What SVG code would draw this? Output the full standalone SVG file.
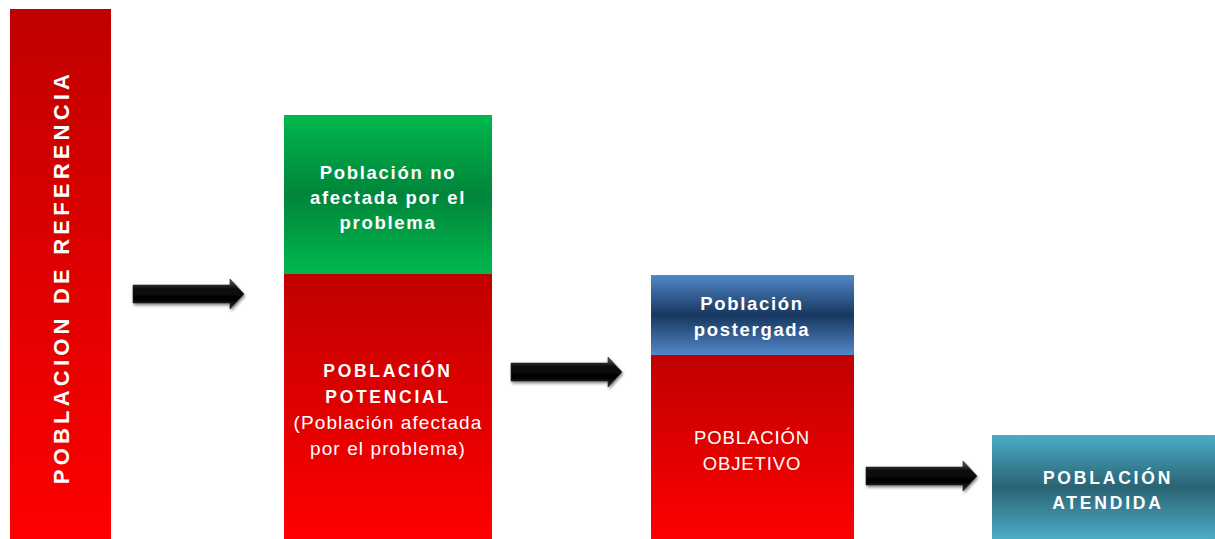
<svg xmlns="http://www.w3.org/2000/svg" width="1215" height="539" viewBox="0 0 1215 539">
<defs>
<linearGradient id="red" x1="0" y1="0" x2="0" y2="1"><stop offset="0" stop-color="#C00000"/><stop offset="1" stop-color="#FF0000"/></linearGradient>
<linearGradient id="green" x1="0" y1="0" x2="0" y2="1"><stop offset="0" stop-color="#00B84E"/><stop offset="0.5" stop-color="#00853A"/><stop offset="1" stop-color="#00B84E"/></linearGradient>
<linearGradient id="blue" x1="0" y1="0" x2="0" y2="1"><stop offset="0" stop-color="#5288C9"/><stop offset="0.5" stop-color="#17375E"/><stop offset="1" stop-color="#5288C9"/></linearGradient>
<linearGradient id="teal" x1="0" y1="0" x2="0" y2="1"><stop offset="0" stop-color="#4BACC6"/><stop offset="0.5" stop-color="#2A6474"/><stop offset="1" stop-color="#4BACC6"/></linearGradient>
<linearGradient id="arr" x1="0" y1="0" x2="0" y2="1"><stop offset="0" stop-color="#666"/><stop offset="0.3" stop-color="#111"/><stop offset="0.7" stop-color="#000"/><stop offset="1" stop-color="#333"/></linearGradient>
<filter id="sh" x="-10%" y="-40%" width="130%" height="200%"><feGaussianBlur in="SourceAlpha" stdDeviation="1.5"/><feOffset dx="1" dy="2" result="b"/><feComponentTransfer><feFuncA type="linear" slope="0.5"/></feComponentTransfer><feMerge><feMergeNode/><feMergeNode in="SourceGraphic"/></feMerge></filter>
<polygon id="arrow" points="0,-9 97,-9 97,-15 111,0 97,15 97,9 0,9" fill="url(#arr)" stroke="#222" stroke-width="0.6" filter="url(#sh)"/>
</defs>
<style>
text{font-family:"Liberation Sans",Arial,sans-serif;fill:#fff;text-anchor:middle}
.b{font-weight:bold;font-size:18.5px;letter-spacing:1.7px}
.n{font-size:19px;letter-spacing:1.1px}
</style>
<g id="ref">
<rect x="10" y="9" width="101" height="530" fill="url(#red)"/>
<text class="b" transform="translate(69,277) rotate(-90)" style="font-size:22px;letter-spacing:4.2px">POBLACION DE REFERENCIA</text>
</g>
<g id="no-afectada">
<rect x="284" y="115" width="208" height="159" fill="url(#green)"/>
<text class="b" x="388" y="179">Población no</text>
<text class="b" x="388" y="204">afectada por el</text>
<text class="b" x="388" y="229">problema</text>
</g>
<g id="potencial">
<rect x="284" y="274" width="208" height="265" fill="url(#red)"/>
<text class="b" x="388" y="377" style="letter-spacing:2.7px;font-size:17.5px">POBLACIÓN</text>
<text class="b" x="388" y="403" style="letter-spacing:2.7px;font-size:17.5px">POTENCIAL</text>
<text class="n" x="388" y="429">(Población afectada</text>
<text class="n" x="388" y="455">por el problema)</text>
</g>
<g id="postergada">
<rect x="651" y="275" width="203" height="80" fill="url(#blue)"/>
<text class="b" x="752" y="310">Población</text>
<text class="b" x="752" y="336">postergada</text>
</g>
<g id="objetivo">
<rect x="651" y="355" width="203" height="184" fill="url(#red)"/>
<text class="n" x="752" y="444" style="font-size:18.5px;letter-spacing:0.9px">POBLACIÓN</text>
<text class="n" x="752" y="470" style="font-size:18.5px;letter-spacing:0.9px">OBJETIVO</text>
</g>
<g id="atendida">
<rect x="992" y="435" width="223" height="104" fill="url(#teal)"/>
<text class="b" x="1108" y="484" style="letter-spacing:2.8px;font-size:17.5px">POBLACIÓN</text>
<text class="b" x="1108" y="509" style="letter-spacing:2.8px;font-size:17.5px">ATENDIDA</text>
</g>
<g id="connectors">
<use href="#arrow" x="133" y="294"/>
<use href="#arrow" x="511" y="372"/>
<use href="#arrow" x="866" y="476"/>
</g>
</svg>
